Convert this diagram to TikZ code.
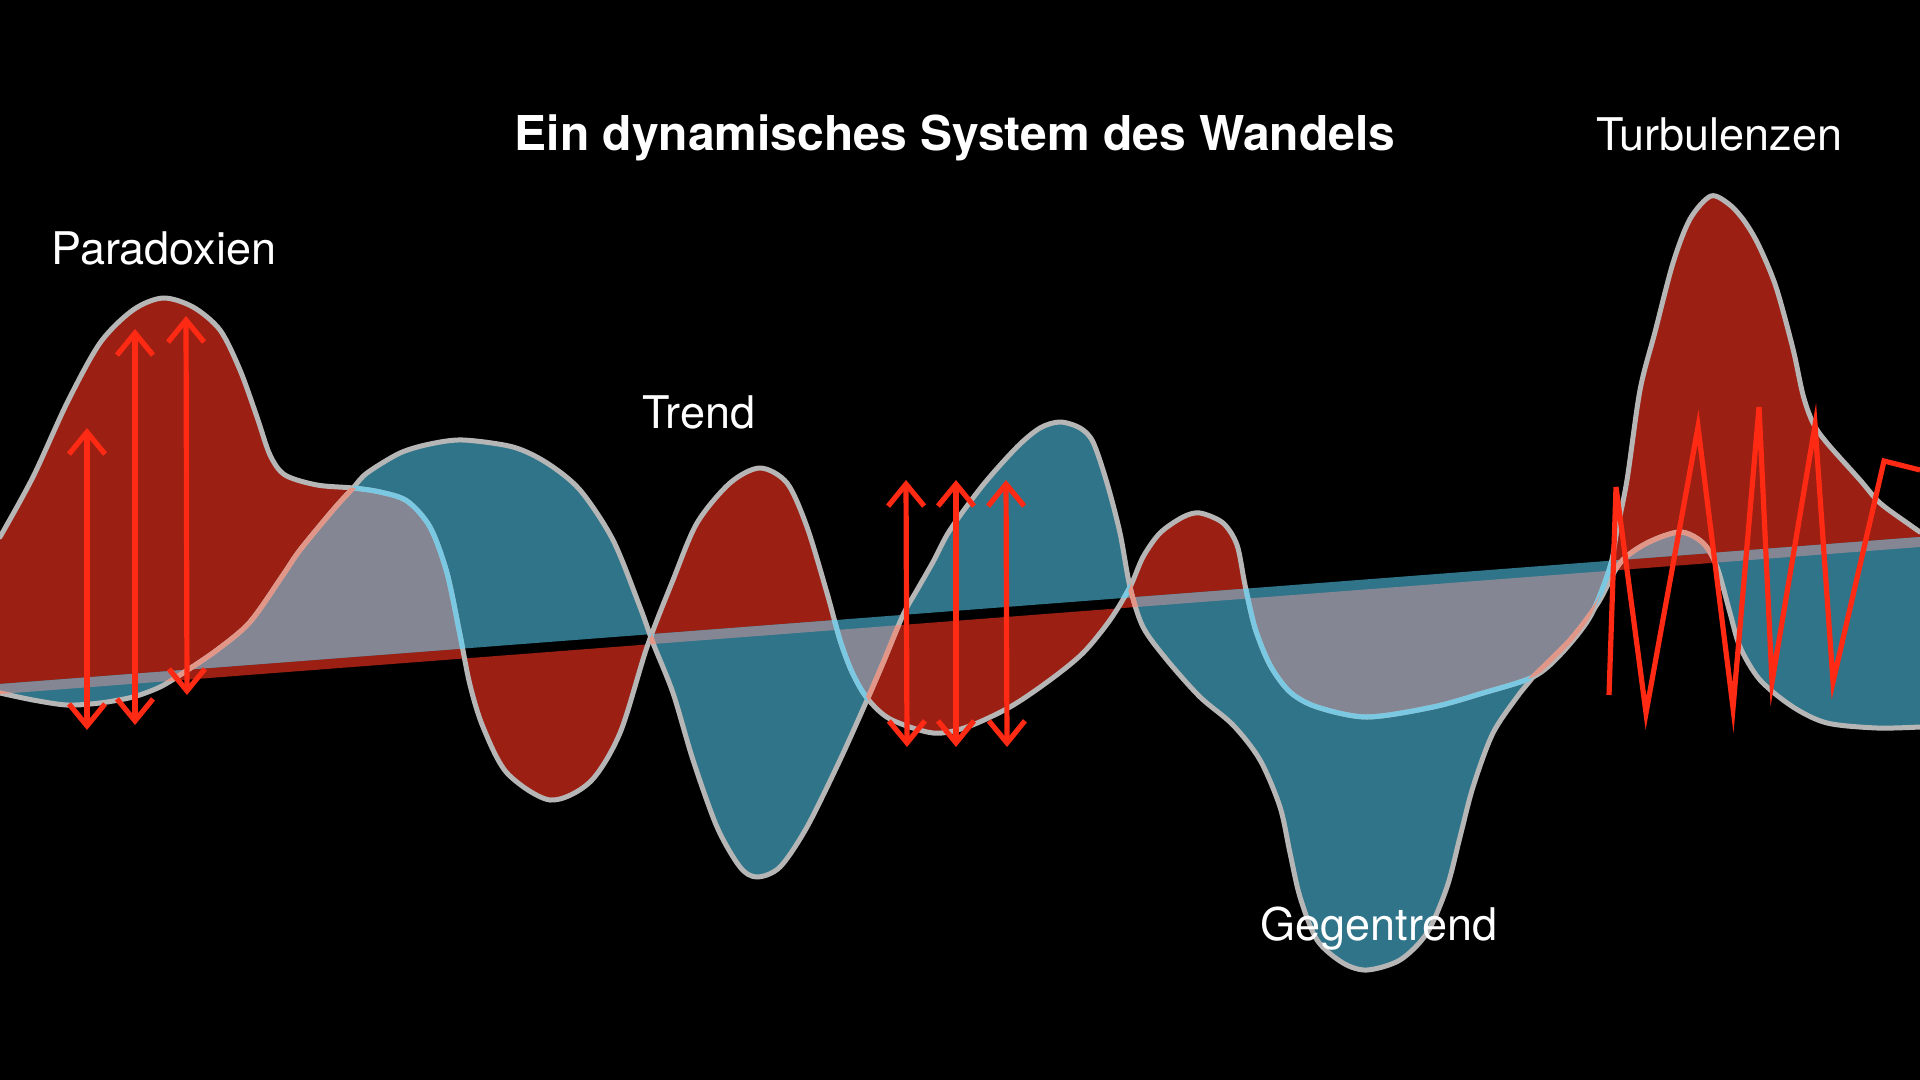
\documentclass[tikz,border=0pt]{standalone}
\usepackage{fontspec}
\setmainfont{TeX Gyre Heros}
\usetikzlibrary{arrows.meta}
\definecolor{wavered}{RGB}{155,32,19}
\definecolor{waveblue}{RGB}{47,116,137}
\definecolor{waveboth}{RGB}{132,135,147}
\definecolor{rimgrey}{RGB}{182,182,182}
\definecolor{rimblue}{RGB}{122,200,226}
\definecolor{rimpink}{RGB}{226,150,136}
\definecolor{swingred}{RGB}{255,42,20}
\newcommand{\redpts}{(0,537) (33,477) (67,403) (100,343) (133,310) (163,298) (193,307) (220,330) (240,370) (257,417) (270,455) (285,475) (317,485) (353,488) (380,492) (407,501) (430,527) (447,573) (460,635) (470,685) (483,727) (507,773) (550,800) (590,782) (620,733) (647,647) (673,580) (697,523) (730,483) (760,468) (787,483) (807,527) (827,593) (840,640) (852,672) (867,698) (890,719) (933,733) (967,727) (1010,707) (1050,680) (1083,653) (1110,620) (1130,587) (1143,557) (1160,533) (1183,517) (1200,513) (1223,523) (1237,545) (1245,585) (1255,628) (1270,665) (1290,692) (1317,707) (1367,717) (1433,707) (1483,693) (1533,677) (1560,655) (1590,617) (1610,567) (1617,530) (1627,480) (1640,390) (1655,332) (1673,263) (1690,219) (1711,196) (1730,205) (1745,222) (1759,246) (1776,287) (1793,349) (1803,395) (1813,423) (1827,443) (1860,480) (1880,503) (1910,525) (1920,532)}
\newcommand{\bluepts}{(0,693) (33,700) (67,705) (100,703) (133,697) (160,687) (183,673) (217,650) (250,622) (283,575) (300,550) (333,510) (353,488) (367,473) (400,453) (430,444) (463,440) (513,447) (547,463) (580,490) (613,540) (640,607) (653,643) (673,693) (693,760) (717,827) (740,867) (757,877) (780,867) (807,827) (840,760) (867,700) (883,663) (903,615) (917,590) (933,562) (950,530) (983,485) (1017,447) (1040,428) (1060,422) (1080,428) (1093,442) (1107,483) (1120,533) (1130,587) (1143,627) (1167,660) (1200,697) (1233,725) (1260,760) (1280,807) (1290,853) (1300,897) (1317,940) (1343,963) (1367,970) (1400,960) (1427,933) (1447,887) (1460,837) (1473,787) (1493,733) (1520,693) (1533,677) (1570,640) (1598,603) (1620,563) (1647,543) (1680,532) (1703,543) (1717,567) (1730,613) (1740,647) (1760,680) (1793,707) (1827,723) (1877,728) (1920,727)}
\edef\redwave{plot[smooth,tension=0.5] coordinates {\redpts}}
\edef\bluewave{plot[smooth,tension=0.5] coordinates {\bluepts}}
\edef\redarea{(0,694) -- plot[smooth,tension=0.5] coordinates {\redpts} -- (1920,547) -- cycle}
\edef\bluearea{(0,684) -- plot[smooth,tension=0.5] coordinates {\bluepts} -- (1920,537) -- cycle}

\begin{document}
\begin{tikzpicture}[
  x=0.5pt,y=-0.5pt,
  rim/.style={draw=rimgrey,line width=2.5pt,line cap=round,line join=round},
  swing/.style={draw=swingred,line width=2.6pt,line cap=round,<->,
   >={Straight Barb[length=11pt,width=18pt]}},
  zigzag/.style={draw=swingred,line width=2.6pt},
  wavetext/.style={text=white,inner sep=0pt,anchor=base west,
   font=\fontsize{22.5}{27}\selectfont}
  ]
  \useasboundingbox (0,0) rectangle (1920,1080);
  \fill[black] (0,0) rectangle (1920,1080);

  % both waves and their overlap
  \fill[wavered] \redarea;
  \fill[waveblue] \bluearea;
  \begin{scope}
   \clip \redarea;
   \fill[waveboth] \bluearea;
  \end{scope}

  % outlines, tinted where they run inside the other wave
  \draw[rim] \redwave;
  \draw[rim] \bluewave;
  \begin{scope}
   \clip \bluearea;
   \draw[rim,draw=rimblue] \redwave;
  \end{scope}
  \begin{scope}
   \clip \redarea;
   \draw[rim,draw=rimpink] \bluewave;
  \end{scope}

  % Paradoxien
  \coordinate (para1up) at (87,428);
  \coordinate (para1down) at (87,730);
  \coordinate (para2up) at (135,329);
  \coordinate (para2down) at (135,725);
  \coordinate (para3up) at (186,316);
  \coordinate (para3down) at (187,695);
  \draw[swing] (para1up) -- (para1down);
  \draw[swing] (para2up) -- (para2down);
  \draw[swing] (para3up) -- (para3down);

  \coordinate (mid1up) at (906,480);
  \coordinate (mid1down) at (907,747);
  \coordinate (mid2up) at (956,480);
  \coordinate (mid2down) at (956,747);
  \coordinate (mid3up) at (1006,480);
  \coordinate (mid3down) at (1007,747);
  \draw[swing] (mid1up) -- (mid1down);
  \draw[swing] (mid2up) -- (mid2down);
  \draw[swing] (mid3up) -- (mid3down);

  % Turbulenzen
  \coordinate (turb0) at (1609,695);
  \coordinate (turb1) at (1616,487);
  \coordinate (turb2) at (1646,713);
  \coordinate (turb3) at (1698,427);
  \coordinate (turb4) at (1733,708);
  \coordinate (turb5) at (1759,407);
  \coordinate (turb6) at (1772,682);
  \coordinate (turb7) at (1815,425);
  \coordinate (turb8) at (1833,682);
  \coordinate (turb9) at (1884,461);
  \coordinate (turb10) at (1920,470);
  \draw[zigzag] (turb0) -- (turb1) -- (turb2) -- (turb3) -- (turb4) -- (turb5)
   -- (turb6) -- (turb7) -- (turb8) -- (turb9) -- (turb10);

  \node[wavetext,anchor=base,font=\fontsize{24}{29}\selectfont\bfseries] (title) at (955,151) {Ein dynamisches System des Wandels};
  \node[wavetext] (paradoxien) at (51,265) {Paradoxien};
  \node[wavetext] (trend) at (642,428) {Trend};
  \node[wavetext] (gegentrend) at (1260,940) {Gegentrend};
  \node[wavetext] (turbulenzen) at (1596,151) {Turbulenzen};
 \end{tikzpicture}
\end{document}
